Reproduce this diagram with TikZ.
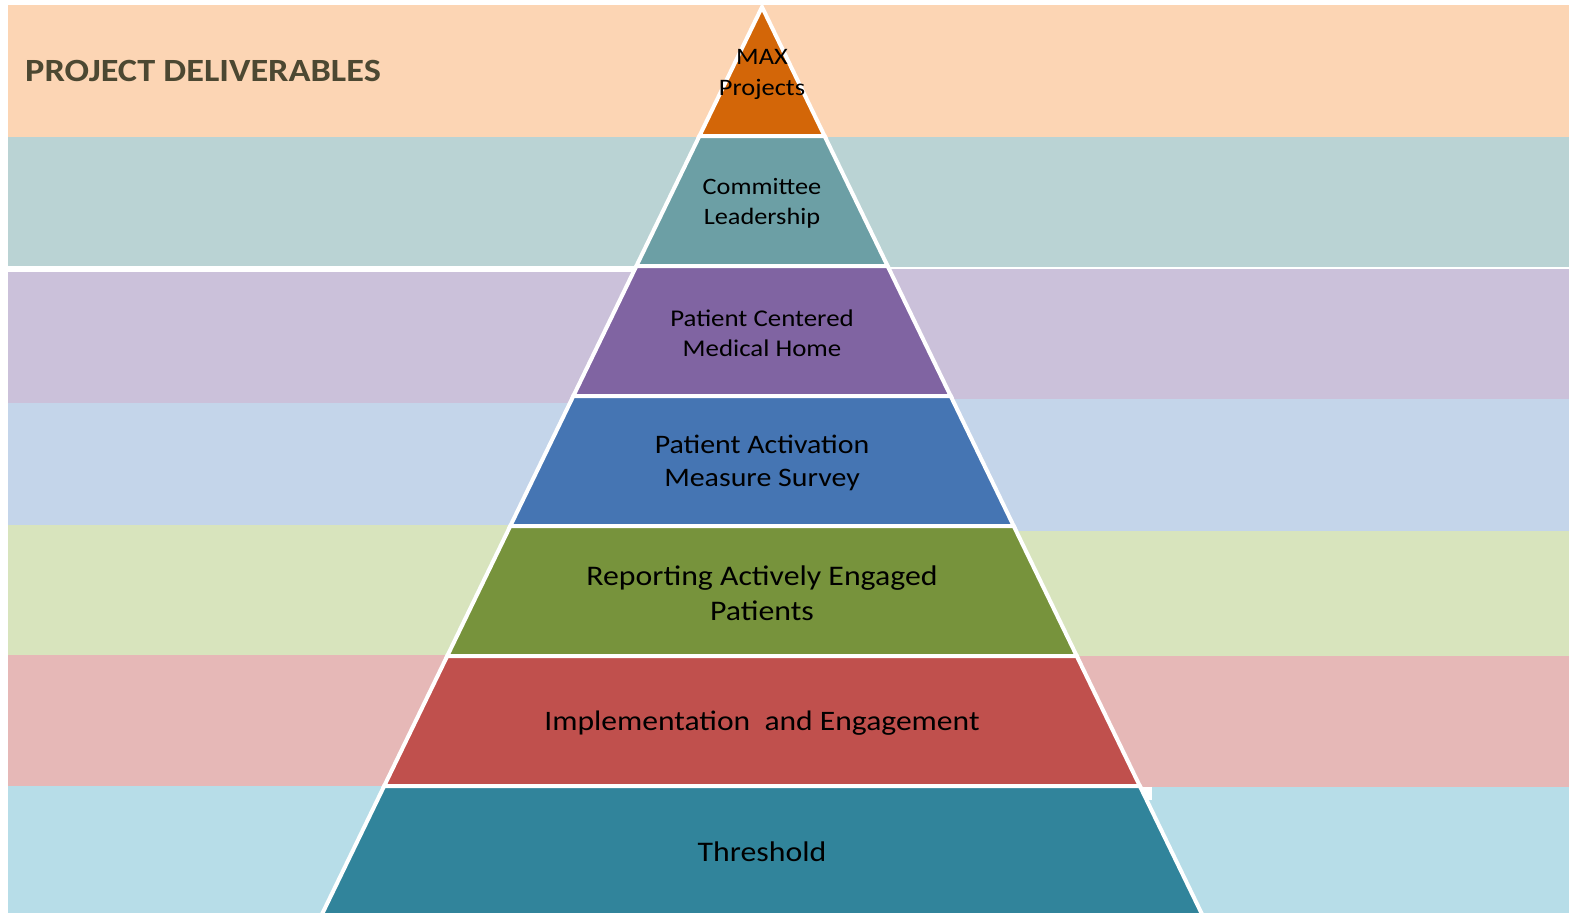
\documentclass[tikz,border=0pt]{standalone}
\usepackage{fontspec}
\setmainfont{Carlito}[FakeStretch=1.12]
\usetikzlibrary{calc}

\definecolor{bandOrange}{HTML}{FCD5B4}
\definecolor{bandTeal}{HTML}{BAD3D4}
\definecolor{bandPurple}{HTML}{CBC1DA}
\definecolor{bandBlue}{HTML}{C4D5EA}
\definecolor{bandGreen}{HTML}{D8E4BD}
\definecolor{bandRed}{HTML}{E6B8B7}
\definecolor{bandCyan}{HTML}{B7DDE8}
\definecolor{layOrange}{HTML}{D36608}
\definecolor{layTeal}{HTML}{6C9FA5}
\definecolor{layPurple}{HTML}{8064A2}
\definecolor{layBlue}{HTML}{4575B3}
\definecolor{layGreen}{HTML}{77933C}
\definecolor{layRed}{HTML}{C0504D}
\definecolor{layCyan}{HTML}{31849B}
\definecolor{titleGray}{HTML}{4C4832}

% one step of the pyramid: top y, bottom y, fill colour
\newcommand{\pyrstep}[3]{%
  \filldraw[fill=#3, draw=white, line width=4pt, line join=miter]
    ({762-0.485*(#1-7)},#1) -- ({762+0.485*(#1-7)},#1) --
    ({762+0.485*(#2-7)},#2) -- ({762-0.485*(#2-7)},#2) -- cycle;}

\begin{document}
\begin{tikzpicture}[x=1pt, y=-1pt,
    lbl/.style={align=center, text=black, inner sep=0pt}]
    \useasboundingbox (0,0) rectangle (1569,913);
%%%%%%%%%%%%%%%%%%%%%%%%%%%%%%%%%%%%%%%%%%
% background bands, left and right of the pyramid
    \foreach \ya/\yb/\col in {5/137/bandOrange, 137/266/bandTeal, 272/403/bandPurple,
        403/525/bandBlue, 525/655/bandGreen, 655/786/bandRed, 786/913/bandCyan}
        \fill[\col] (8,\ya) rectangle (762,\yb);
    \foreach \ya/\yb/\col in {5/137/bandOrange, 137/267/bandTeal, 269/399/bandPurple,
        399/531/bandBlue, 531/656/bandGreen, 656/787/bandRed, 787/913/bandCyan}
        \fill[\col] (762,\ya) rectangle (1569,\yb);
    \fill[white] (1141,787) rectangle (1152,800);
%%%%%%%%%%%%%%%%%%%%%%%%%%%%%%%%%%%%%%%%%%
% the pyramid
    \pyrstep{7}{136}{layOrange}
    \pyrstep{136}{266}{layTeal}
    \pyrstep{266}{396}{layPurple}
    \pyrstep{396}{526}{layBlue}
    \pyrstep{526}{656}{layGreen}
    \pyrstep{656}{786}{layRed}
    \pyrstep{786}{930}{layCyan}
%%%%%%%%%%%%%%%%%%%%%%%%%%%%%%%%%%%%%%%%%%
    \node[anchor=base west, inner sep=0pt, text=titleGray,
        font=\bfseries\fontsize{32.4}{39}\selectfont] (title) at (25,81.7) {PROJECT DELIVERABLES};
    \node[lbl, font=\fontsize{23.6}{30.5}\selectfont] (maxproj) at (762,74.5) {MAX\\Projects};
    \node[lbl, font=\fontsize{23.5}{30}\selectfont] (committee) at (762,203.5) {Committee\\Leadership};
    \node[lbl, font=\fontsize{24}{30}\selectfont] (pcmh) at (762,333.5) {Patient Centered\\Medical Home};
    \node[lbl, font=\fontsize{26.7}{33}\selectfont] (pam) at (762,462.5) {Patient Activation\\Measure Survey};
    \node[lbl, font=\fontsize{28.4}{35}\selectfont] (reporting) at (762,593) {Reporting Actively Engaged\\Patients};
    \node[lbl, font=\fontsize{28.2}{35}\selectfont] (implement) at (762,723) {Implementation\ \ and Engagement};
    \node[lbl, font=\fontsize{28.4}{35}\selectfont] (threshold) at (762,852) {Threshold};
\end{tikzpicture}
\end{document}
